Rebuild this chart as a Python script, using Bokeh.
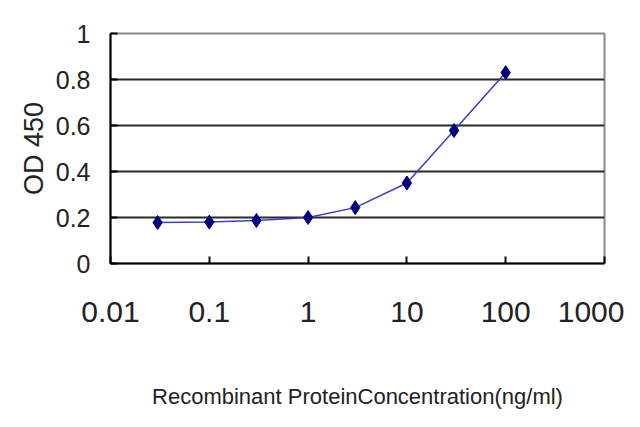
from bokeh.plotting import figure
from bokeh.models import FixedTicker, Range1d
from bokeh.embed import file_html
from bokeh.resources import INLINE

conc = [0.03, 0.1, 0.3, 1, 3, 10, 30, 100]
od450 = [0.178, 0.18, 0.187, 0.2, 0.243, 0.35, 0.578, 0.83]
x_ticks = [0.01, 0.1, 1, 10, 100, 1000]
x_tick_labels = ["0.01", "0.1", "1", "10", "100", "1000"]
y_ticks = [0, 0.2, 0.4, 0.6, 0.8, 1.0]
y_tick_labels = ["0", "0.2", "0.4", "0.6", "0.8", "1"]

FONT = "Liberation Sans"

p = figure(width=624, height=411, x_axis_type="log", output_backend="svg",
           toolbar_location=None, x_range=Range1d(0.01, 1000), y_range=Range1d(0, 1),
           min_border_left=110, min_border_top=33, min_border_right=20, min_border_bottom=148)
p.background_fill_color = "white"
p.border_fill_color = "white"
p.outline_line_color = "#8a8a8a"
p.outline_line_width = 2

p.xgrid.grid_line_color = None
p.ygrid.grid_line_color = "#2a2a2a"
p.ygrid.grid_line_width = 2
p.ygrid.ticker = FixedTicker(ticks=y_ticks)

p.xaxis.ticker = FixedTicker(ticks=x_ticks, minor_ticks=[])
p.xaxis.major_label_overrides = {t: l for t, l in zip(x_ticks, x_tick_labels)}
p.yaxis.ticker = FixedTicker(ticks=y_ticks, minor_ticks=[])
p.yaxis.major_label_overrides = {t: l for t, l in zip(y_ticks, y_tick_labels)}

for ax in (p.xaxis[0], p.yaxis[0]):
    ax.axis_line_color = "black"
    ax.axis_line_width = 2
    ax.major_tick_line_color = "black"
    ax.major_tick_line_width = 2
    ax.major_tick_in = 7
    ax.major_tick_out = 0
    ax.minor_tick_line_color = None
    ax.major_label_text_font = FONT
    ax.axis_label_text_font = FONT
    ax.axis_label_text_font_style = "normal"
    ax.major_label_text_color = "#222222"
    ax.axis_label_text_color = "#222222"

p.xaxis.major_label_text_font_size = "30px"
p.xaxis.major_label_standoff = 38
p.xaxis.axis_label = "Recombinant ProteinConcentration(ng/ml)"
p.xaxis.axis_label_text_font_size = "22px"
p.xaxis.axis_label_standoff = 59

p.yaxis.major_label_text_font_size = "25px"
p.yaxis.major_label_standoff = 20
p.yaxis.axis_label = "OD 450"
p.yaxis.axis_label_text_font_size = "27px"
p.yaxis.axis_label_standoff = 4

p.line(conc, od450, line_color="#3c3cc8", line_width=1.5)
p.scatter(conc, od450, marker="diamond", size=14, fill_color="#000080", line_color="#000080")

open("out.html", "w").write(file_html(p, INLINE))
